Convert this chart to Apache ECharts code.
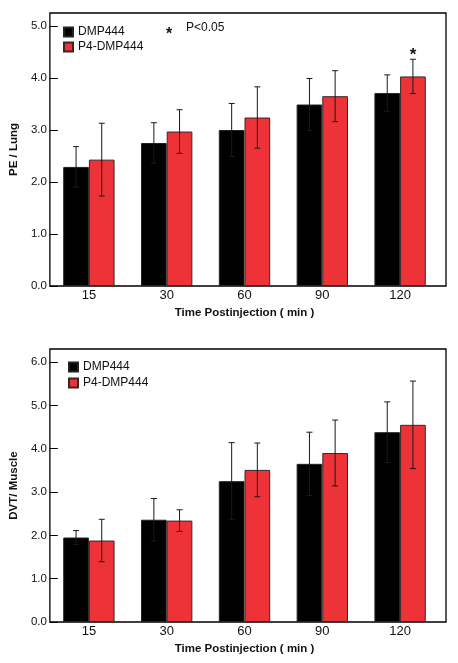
<!DOCTYPE html>
<html>
<head>
<meta charset="utf-8">
<script src="https://cdn.jsdelivr.net/npm/echarts@6/dist/echarts.min.js"></script>
<style>
html,body{margin:0;padding:0;background:#fff;}
#chart{width:458px;height:663px;}
</style>
</head>
<body>
<div id="chart"></div>
<script>
// ---- data ----
const categories = ['15', '30', '60', '90', '120'];
const seriesNames = ['DMP444', 'P4-DMP444'];

// Top panel: PE / Lung
const lungDMP = [2.29, 2.75, 3.00, 3.49, 3.71];
const lungDMPErr = [0.39, 0.39, 0.51, 0.50, 0.35];
const lungP4 = [2.43, 2.97, 3.24, 3.65, 4.03];
const lungP4Err = [0.70, 0.42, 0.59, 0.49, 0.33];
const lungSig = [0, 0, 0, 0, 1]; // P4-DMP444 significant (P<0.05)

// Bottom panel: DVT / Muscle
const dvtDMP = [1.95, 2.36, 3.25, 3.65, 4.38];
const dvtDMPErr = [0.16, 0.49, 0.89, 0.73, 0.70];
const dvtP4 = [1.88, 2.34, 3.51, 3.90, 4.55];
const dvtP4Err = [0.49, 0.25, 0.62, 0.76, 1.01];
const dvtSig = [0, 0, 0, 0, 0];

const yMaxTop = 5.25;
const yMaxBottom = 6.3;

// ---- styles ----
const RED = '#ee3338';
const BLACK = '#000000';
const FONT = 'Liberation Sans, Arial, sans-serif';
const CAT_GAP = 0.34;

const chart = echarts.init(document.getElementById('chart'), null, {renderer: 'canvas'});

function errData(vals, errs, sIdx, sig) {
  return vals.map((v, i) => [i, v, errs[i], sIdx, sig ? sig[i] : 0]);
}

function renderErr(params, api) {
  const band = api.size([1, 0])[0];
  const barW = band * (1 - CAT_GAP) / 2;
  const idx = api.value(0), v = api.value(1), e = api.value(2), s = api.value(3), sig = api.value(4);
  const cx = api.coord([idx, 0])[0] + (s === 0 ? -barW / 2 : barW / 2);
  const yT = api.coord([idx, v + e])[1];
  const yB = api.coord([idx, v - e])[1];
  const cap = 3;
  const st = {stroke: '#1a1a1a', lineWidth: 1};
  const children = [
    {type: 'line', shape: {x1: cx, y1: yT, x2: cx, y2: yB}, style: st},
    {type: 'line', shape: {x1: cx - cap, y1: yT, x2: cx + cap, y2: yT}, style: st},
    {type: 'line', shape: {x1: cx - cap, y1: yB, x2: cx + cap, y2: yB}, style: st}
  ];
  if (sig) {
    children.push({type: 'text', style: {x: cx, y: yT + 5, text: '*', fill: '#111',
      font: 'bold 17px ' + FONT, textAlign: 'center', textVerticalAlign: 'bottom'}});
  }
  return {type: 'group', children};
}

function yLabelFmt(v) { return Number.isInteger(v) ? v.toFixed(1) : ''; }

const frameStyle = {show: true, borderColor: '#000', borderWidth: 1.3, backgroundColor: 'transparent'};
const nameStyle = {color: '#111', fontSize: 11.5, fontWeight: 'bold', fontFamily: FONT};

function frameY(gridIndex, max, name) {
  return {gridIndex, type: 'value', min: 0, max, interval: 1,
    splitLine: {show: false}, axisLine: {show: false},
    axisTick: {show: true, inside: true, length: 8, lineStyle: {color: '#000', width: 1}},
    axisLabel: {color: '#111', fontSize: 11.5, fontFamily: FONT, margin: 3, formatter: yLabelFmt, showMaxLabel: false},
    name, nameLocation: 'middle', nameGap: 23, nameTextStyle: nameStyle};
}
function dataX(gridIndex) {
  return {gridIndex, type: 'category', data: categories,
    axisLine: {show: false}, axisTick: {show: false},
    axisLabel: {color: '#111', fontSize: 13, fontFamily: FONT, margin: 3},
    name: 'Time Postinjection ( min )', nameLocation: 'middle', nameGap: 21, nameTextStyle: nameStyle};
}

const option = {
  animation: false,
  backgroundColor: '#fff',
  grid: [
    Object.assign({left: 43, right: 12, top: 13, bottom: 377}, frameStyle),
    {left: 50, right: 19, top: 13, bottom: 377},
    Object.assign({left: 43, right: 12, top: 349, bottom: 41}, frameStyle),
    {left: 50, right: 19, top: 349, bottom: 41}
  ],
  xAxis: [
    {gridIndex: 0, type: 'value', show: false},
    dataX(1),
    {gridIndex: 2, type: 'value', show: false},
    dataX(3)
  ],
  yAxis: [
    frameY(0, yMaxTop, 'PE / Lung'),
    {gridIndex: 1, type: 'value', min: 0, max: yMaxTop, show: false},
    frameY(2, yMaxBottom, 'DVT/ Muscle'),
    {gridIndex: 3, type: 'value', min: 0, max: yMaxBottom, show: false}
  ],
  legend: [
    {data: seriesNames, orient: 'vertical', left: 63, top: 26, padding: 0, itemGap: 3,
      itemWidth: 9, itemHeight: 9, icon: 'rect', selectedMode: false,
      textStyle: {color: '#111', fontSize: 12, fontFamily: FONT}},
    {data: seriesNames, orient: 'vertical', left: 68, top: 361, padding: 0, itemGap: 4,
      itemWidth: 9, itemHeight: 9, icon: 'rect', selectedMode: false,
      textStyle: {color: '#111', fontSize: 12, fontFamily: FONT}}
  ],
  graphic: [
    {type: 'text', left: 166, top: 27, style: {text: '*', font: 'bold 16px ' + FONT, fill: '#111'}},
    {type: 'text', left: 186, top: 22, style: {text: 'P<0.05', font: '12px ' + FONT, fill: '#111'}}
  ],
  series: [
    {name: seriesNames[0], type: 'bar', xAxisIndex: 1, yAxisIndex: 1, data: lungDMP,
      barGap: '0%', barCategoryGap: '34%',
      itemStyle: {color: BLACK, borderColor: '#222', borderWidth: 1}},
    {name: seriesNames[1], type: 'bar', xAxisIndex: 1, yAxisIndex: 1, data: lungP4,
      barGap: '0%', barCategoryGap: '34%',
      itemStyle: {color: RED, borderColor: '#3a2626', borderWidth: 1}},
    {type: 'custom', xAxisIndex: 1, yAxisIndex: 1, renderItem: renderErr, z: 5, clip: false,
      data: errData(lungDMP, lungDMPErr, 0, null).concat(errData(lungP4, lungP4Err, 1, lungSig))},
    {name: seriesNames[0], type: 'bar', xAxisIndex: 3, yAxisIndex: 3, data: dvtDMP,
      barGap: '0%', barCategoryGap: '34%',
      itemStyle: {color: BLACK, borderColor: '#222', borderWidth: 1}},
    {name: seriesNames[1], type: 'bar', xAxisIndex: 3, yAxisIndex: 3, data: dvtP4,
      barGap: '0%', barCategoryGap: '34%',
      itemStyle: {color: RED, borderColor: '#3a2626', borderWidth: 1}},
    {type: 'custom', xAxisIndex: 3, yAxisIndex: 3, renderItem: renderErr, z: 5, clip: false,
      data: errData(dvtDMP, dvtDMPErr, 0, null).concat(errData(dvtP4, dvtP4Err, 1, dvtSig))}
  ]
};
chart.setOption(option);
</script>
</body>
</html>
